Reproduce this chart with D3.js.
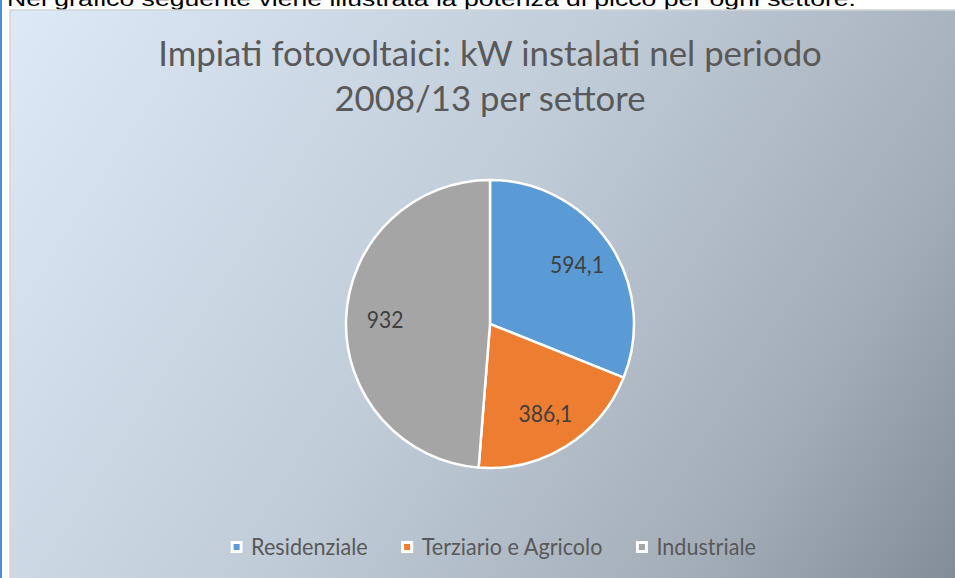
<!DOCTYPE html>
<html><head><meta charset="utf-8">
<script src="https://cdn.jsdelivr.net/npm/d3@7"></script>
<style>
  body{margin:0;background:#fff;overflow:hidden}
  svg{display:block}
</style>
</head><body>
<svg id="chart" width="955" height="578"></svg>
<script>
// Photovoltaic capacity (kW) installed 2008-2013, by sector
const categories = ["Residenziale", "Terziario e Agricolo", "Industriale"];
const values = [594.1, 386.1, 932];
const valueLabels = ["594,1", "386,1", "932"];
const sliceColors = ["#5B9BD5", "#ED7D31", "#A5A5A5"];
const titleLines = ["Impiati fotovoltaici: kW instalati nel periodo", "2008/13 per settore"];
const introText = "Nel grafico seguente viene illustrata la potenza di picco per ogni settore.";

const W = 955, H = 578;
const svg = d3.select("#chart");
const font = "Lato, 'Open Sans', sans-serif";
const condense = 0.92; // narrows Lato towards a Calibri-like width for the small texts

// page margin rule on the left
svg.append("rect").attr("x", 0).attr("y", 0).attr("width", 2).attr("height", H).attr("fill", "#4a8fd6");

// intro sentence, partly cut off at the top
svg.append("text")
  .attr("x", 7).attr("y", 6)
  .attr("font-family", "Arial, 'Liberation Sans', sans-serif")
  .attr("font-size", 21)
  .attr("textLength", 849).attr("lengthAdjust", "spacingAndGlyphs")
  .attr("fill", "#000")
  .text(introText);

// chart area background
const defs = svg.append("defs");
const grad = defs.append("linearGradient").attr("id", "bg")
  .attr("gradientUnits", "userSpaceOnUse")
  .attr("x1", 10).attr("y1", 10).attr("x2", 1000).attr("y2", 640);
[[0, "#dde9f6"], [0.45, "#bfcbd7"], [0.75, "#a3adb8"], [1, "#79828c"]]
  .forEach(([o, c]) => grad.append("stop").attr("offset", o).attr("stop-color", c));

svg.append("rect")
  .attr("x", 10).attr("y", 10).attr("width", W).attr("height", H)
  .attr("fill", "url(#bg)")
  .attr("stroke", "#d4d4d4").attr("stroke-width", 1.5);

// title, two centred lines
const title = svg.append("text")
  .attr("text-anchor", "middle")
  .attr("font-family", font).attr("fill", "#595959")
  .attr("font-size", 32);
titleLines.forEach((t, i) => {
  title.append("tspan").attr("x", 490).attr("y", 66 + i * 45).text(t);
});
// size the title so its first line spans the chart's title width
{
  const w = title.select("tspan").node().getComputedTextLength();
  title.attr("font-size", 32 * 664 / w);
}

// pie
const cx = 490, cy = 324, R = 144;
const pie = d3.pie().sort(null).value(d => d);
const arcs = pie(values);
const arc = d3.arc().innerRadius(0).outerRadius(R);
const labelArc = d3.arc().innerRadius(105).outerRadius(105);
const color = d3.scaleOrdinal().domain(categories).range(sliceColors);

const g = svg.append("g").attr("transform", `translate(${cx},${cy})`);
g.selectAll("path.slice").data(arcs).join("path")
  .attr("class", "slice")
  .attr("d", arc)
  .attr("fill", (d, i) => color(categories[i]))
  .attr("stroke", "#fff").attr("stroke-width", 2.5).attr("stroke-linejoin", "round");

g.selectAll("text.val").data(arcs).join("text")
  .attr("class", "val")
  .attr("transform", d => `translate(${labelArc.centroid(d)}) scale(${condense},1)`)
  .attr("text-anchor", "middle").attr("dy", "0.36em")
  .attr("font-family", font).attr("font-size", 23).attr("fill", "#404040")
  .text((d, i) => valueLabels[i]);

// legend, laid out left to right then centred under the pie
const legend = svg.append("g");
let lx = 0;
categories.forEach((c, i) => {
  const item = legend.append("g").attr("transform", `translate(${lx},0)`);
  item.append("rect").attr("x", 2).attr("y", -4.5).attr("width", 9).attr("height", 9)
    .attr("fill", color(c)).attr("stroke", "#fff").attr("stroke-width", 3);
  const t = item.append("text")
    .attr("transform", `translate(21,0) scale(${condense},1)`)
    .attr("dy", "0.36em")
    .attr("font-family", font).attr("font-size", 23.5).attr("fill", "#595959").text(c);
  const tw = t.node().getComputedTextLength() * condense;
  lx += 21 + tw + (i < categories.length - 1 ? 33 : 0);
});
legend.attr("transform", `translate(${493 - lx / 2},547)`);
</script>
</body></html>
